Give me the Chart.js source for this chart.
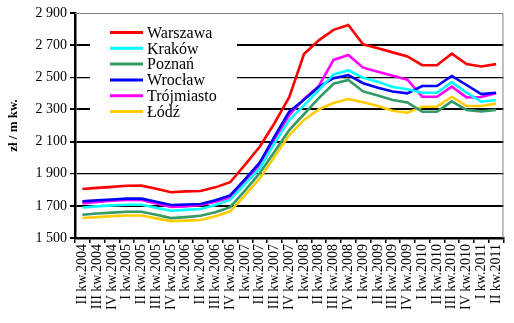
<!DOCTYPE html>
<html>
<head>
<meta charset="utf-8">
<script src="https://cdn.jsdelivr.net/npm/chart.js@4/dist/chart.umd.min.js"></script>
<style>
  html, body { margin: 0; padding: 0; background: #fff; }
  #wrap { width: 514px; height: 323px; }
</style>
</head>
<body>
<div id="wrap"><canvas id="chart" width="514" height="323"></canvas></div>
<script>
// ===== Data =====
const quarters = [
    "II kw.2004", "III kw.2004", "IV kw.2004",
    "I kw.2005", "II kw.2005", "III kw.2005", "IV kw.2005",
    "I kw.2006", "II kw.2006", "III kw.2006", "IV kw.2006",
    "I kw.2007", "II kw.2007", "III kw.2007", "IV kw.2007",
    "I kw.2008", "II kw.2008", "III kw.2008", "IV kw.2008",
    "I kw.2009", "II kw.2009", "III kw.2009", "IV kw.2009",
    "I kw.2010", "II kw.2010", "III kw.2010", "IV kw.2010",
    "I kw.2011", "II kw.2011"
];

const warszawa   = [1805, 1812, 1818, 1825, 1826, 1806, 1785, 1790, 1792, 1815, 1847, 1955, 2068, 2214, 2376, 2645, 2730, 2795, 2825, 2705, 2680, 2655, 2630, 2575, 2575, 2647, 2583, 2567, 2582];
const krakow     = [1690, 1697, 1703, 1707, 1707, 1688, 1670, 1675, 1680, 1705, 1737, 1835, 1933, 2089, 2234, 2325, 2420, 2518, 2543, 2497, 2473, 2440, 2425, 2404, 2404, 2470, 2405, 2348, 2359];
const poznan     = [1645, 1652, 1658, 1663, 1663, 1645, 1624, 1630, 1638, 1660, 1692, 1795, 1903, 2037, 2172, 2270, 2370, 2460, 2483, 2412, 2387, 2359, 2343, 2286, 2286, 2350, 2297, 2288, 2297];
const wroclaw    = [1728, 1735, 1740, 1745, 1745, 1725, 1705, 1708, 1712, 1735, 1765, 1865, 1969, 2131, 2286, 2360, 2440, 2494, 2514, 2463, 2435, 2412, 2400, 2446, 2446, 2508, 2452, 2395, 2404];
const trojmiasto = [1715, 1725, 1732, 1736, 1736, 1715, 1693, 1697, 1705, 1725, 1752, 1855, 1954, 2114, 2265, 2365, 2445, 2608, 2639, 2560, 2535, 2510, 2485, 2379, 2379, 2442, 2375, 2377, 2400];
const lodz       = [1624, 1630, 1636, 1640, 1640, 1622, 1605, 1608, 1612, 1635, 1665, 1765, 1871, 2006, 2141, 2235, 2300, 2340, 2365, 2344, 2321, 2292, 2280, 2317, 2317, 2379, 2321, 2321, 2336];

const cities = ["Warszawa", "Kraków", "Poznań", "Wrocław", "Trójmiasto", "Łódź"];
const series = [warszawa, krakow, poznan, wroclaw, trojmiasto, lodz];
const colors = ["#FF0000", "#00FFFF", "#339966", "#0000FF", "#FF00FF", "#FFCC00"];

const yMin = 1500;
const yMax = 2900;
const yStep = 200;

const SERIF = "'Liberation Serif', 'Times New Roman', serif";

// ===== Legend drawn inside the plot (white box over the grid) =====
const insideLegend = {
    id: "insideLegend",
    afterDraw(chart) {
        const ctx = chart.ctx;
        const area = chart.chartArea;
        ctx.save();
        // grey frame on top and right of plot
        ctx.strokeStyle = "#808080";
        ctx.lineWidth = 1;
        ctx.beginPath();
        ctx.moveTo(area.left, area.top + 0.5);
        ctx.lineTo(area.right - 0.5, area.top + 0.5);
        ctx.lineTo(area.right - 0.5, area.bottom);
        ctx.stroke();

        ctx.fillStyle = "#fff";
        ctx.fillRect(90, 21, 147, 98);

        ctx.font = "16px " + SERIF;
        ctx.textBaseline = "middle";
        chart.data.datasets.forEach((ds, i) => {
            const y = 32.5 + i * 15.8;
            ctx.strokeStyle = ds.borderColor;
            ctx.lineWidth = 3;
            ctx.beginPath();
            ctx.moveTo(110, y);
            ctx.lineTo(143, y);
            ctx.stroke();
            ctx.fillStyle = "#000";
            ctx.fillText(ds.label, 147, y + 1);
        });
        ctx.restore();
    }
};

// ===== Chart =====
const ctx = document.getElementById("chart").getContext("2d");
new Chart(ctx, {
    type: "line",
    data: {
        labels: quarters,
        datasets: cities.map((name, i) => ({
            label: name,
            data: series[i],
            borderColor: colors[i],
            backgroundColor: colors[i],
            borderWidth: 2.6,
            pointRadius: 0,
            tension: 0,
            fill: false
        }))
    },
    options: {
        responsive: false,
        animation: false,
        devicePixelRatio: 1,
        layout: { padding: { top: 13, right: 7, bottom: 0, left: 6 } },
        plugins: {
            legend: { display: false },
            tooltip: { enabled: false }
        },
        scales: {
            x: {
                offset: true,
                grid: {
                    offset: true,
                    drawOnChartArea: false,
                    drawTicks: true,
                    tickLength: 5,
                    color: "#000",
                    lineWidth: 1.5
                },
                border: { color: "#000", width: 2.5 },
                ticks: {
                    autoSkip: false,
                    maxRotation: 90,
                    minRotation: 90,
                    padding: 1,
                    color: "#000",
                    font: { family: SERIF, size: 14 }
                },
                afterFit(scale) { scale.height = 85; }
            },
            y: {
                min: yMin,
                max: yMax,
                ticks: {
                    stepSize: yStep,
                    padding: 3,
                    color: "#000",
                    font: { family: SERIF, size: 14 },
                    callback: v => String(v).replace(/(\d)(\d{3})$/, "$1 $2")
                },
                grid: {
                    drawTicks: true,
                    tickLength: 5,
                    color: c => (c.tick && c.tick.value === yMax) ? "rgba(0,0,0,0)" : "#000",
                    tickColor: "#000",
                    lineWidth: c => {
                        const v = c.tick ? c.tick.value : 0;
                        return (v === 1900 || v === 2500) ? 1.2 : 2;
                    }
                },
                border: { color: "#000", width: 2.5 },
                title: {
                    display: true,
                    text: "zł / m kw.",
                    color: "#000",
                    padding: { top: 0, bottom: 4 },
                    font: { family: SERIF, size: 13, weight: "bold" }
                },
                afterFit(scale) { scale.width = 69; }
            }
        }
    },
    plugins: [insideLegend]
});
</script>
</body>
</html>
